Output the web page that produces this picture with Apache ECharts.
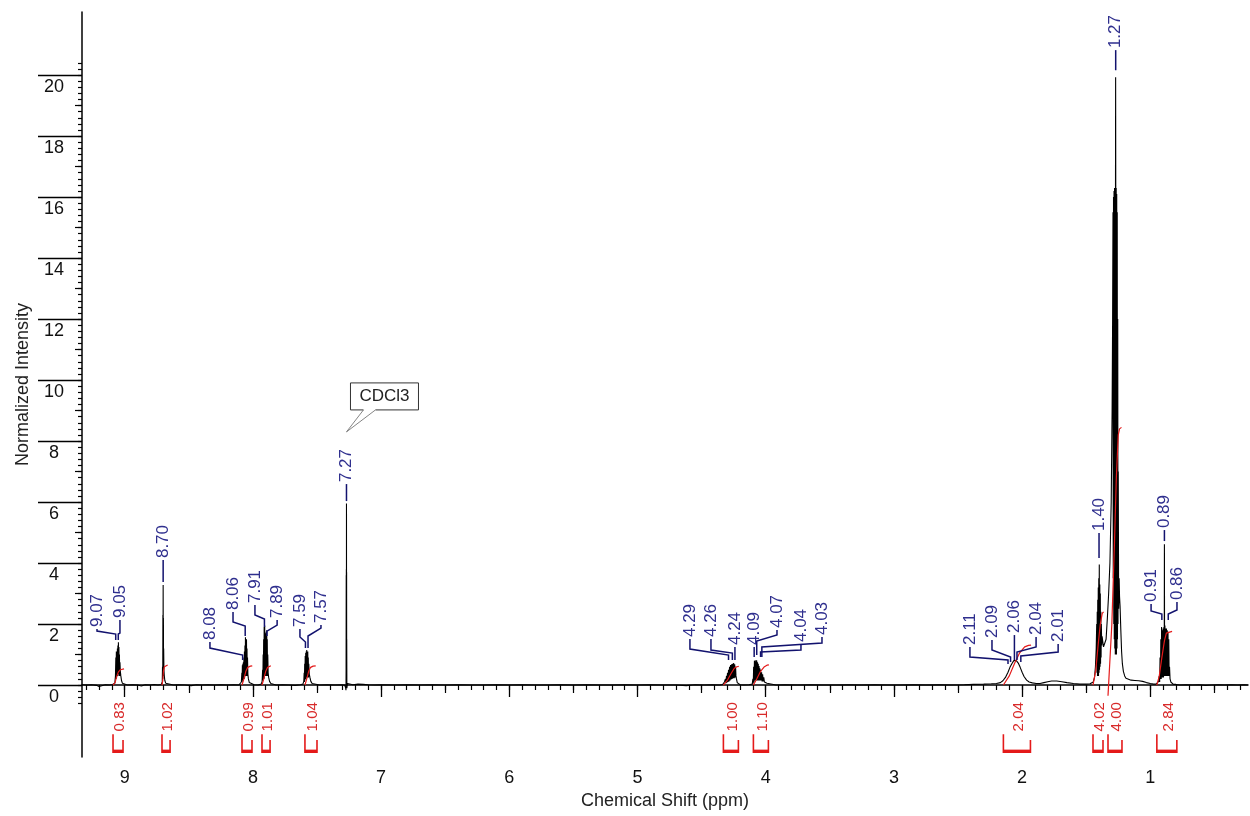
<!DOCTYPE html>
<html><head><meta charset="utf-8">
<script src="https://cdn.jsdelivr.net/npm/echarts@6/dist/echarts.min.js"></script>
<style>html,body{margin:0;padding:0;background:#fff}#c{width:1250px;height:816px}</style>
</head><body><div id="c"></div>
<script>
// ---------------- DATA ----------------
// spectrum segments: [ppm, normalized intensity]
const segStart = [[9.333,0.01],[9.3,0.0],[9.26,0.01],[9.22,-0.01],[9.2,-0.05],[9.185,0.0],[9.15,0.01],[9.12,0.0],[9.095,0.02]];
const seg906 = [[9.085,0.02],[9.077,0.06],[9.072,0.3],[9.069,0.9],[9.067,0.2],[9.065,1.1],[9.063,0.25],[9.061,1.0],[9.059,0.3],[9.057,1.2],[9.055,0.3],[9.053,1.3],[9.051,0.35],[9.049,1.4],[9.047,0.35],[9.045,1.25],[9.043,0.3],[9.041,1.0],[9.039,0.3],[9.037,0.75],[9.034,0.45],[9.03,0.3],[9.025,0.15],[9.018,0.06],[9.008,0.02]];
const seg870 = [[8.98,0.0],[8.94,0.01],[8.9,0.0],[8.87,-0.03],[8.84,0.01],[8.8,0.0],[8.77,0.02],[8.74,0.0],[8.715,0.02],[8.707,0.1],[8.705,0.6],[8.703,0.2],[8.702,2.3],[8.701,0.3],[8.7,3.28],[8.699,0.3],[8.698,2.2],[8.697,0.3],[8.696,1.2],[8.694,0.5],[8.691,0.3],[8.687,0.15],[8.68,0.06],[8.67,0.02]];
const seg807 = [[8.62,0.0],[8.58,0.01],[8.53,0.0],[8.48,-0.02],[8.44,0.01],[8.4,0.0],[8.35,0.01],[8.3,0.0],[8.25,0.01],[8.2,0.0],[8.15,0.01],[8.11,0.0],[8.095,0.03],[8.09,0.1],[8.086,0.4],[8.084,0.1],[8.082,0.65],[8.08,0.15],[8.078,0.7],[8.076,0.15],[8.074,0.75],[8.072,0.2],[8.07,0.9],[8.068,0.2],[8.066,1.1],[8.064,0.25],[8.062,1.3],[8.06,0.3],[8.058,1.57],[8.056,0.3],[8.054,1.4],[8.052,0.3],[8.05,1.5],[8.048,0.3],[8.046,1.2],[8.044,0.3],[8.042,0.9],[8.039,0.35],[8.035,0.2],[8.028,0.08],[8.018,0.02]];
const seg790 = [[7.99,0.01],[7.96,0.0],[7.935,0.03],[7.928,0.12],[7.924,0.5],[7.922,0.15],[7.92,1.0],[7.918,0.2],[7.916,1.5],[7.914,0.2],[7.912,1.9],[7.91,0.25],[7.908,1.95],[7.906,0.3],[7.904,1.7],[7.902,0.3],[7.9,1.6],[7.898,0.3],[7.896,1.75],[7.894,0.3],[7.892,1.8],[7.89,0.3],[7.888,1.5],[7.886,0.3],[7.884,1.0],[7.881,0.4],[7.877,0.25],[7.87,0.12],[7.86,0.05],[7.845,0.02]];
const seg758 = [[7.82,0.0],[7.77,0.01],[7.72,0.0],[7.67,-0.01],[7.63,0.01],[7.61,0.03],[7.603,0.12],[7.6,0.4],[7.598,0.1],[7.596,0.7],[7.594,0.15],[7.592,0.95],[7.59,0.2],[7.588,1.05],[7.586,0.2],[7.584,1.1],[7.582,0.25],[7.58,1.15],[7.578,0.25],[7.576,1.05],[7.574,0.25],[7.572,1.1],[7.57,0.25],[7.568,0.9],[7.566,0.25],[7.564,0.7],[7.56,0.35],[7.555,0.25],[7.548,0.12],[7.538,0.05],[7.525,0.01]];
const seg727 = [[7.48,0.0],[7.42,0.01],[7.36,0.0],[7.31,0.01],[7.285,0.0],[7.277,-0.08],[7.274,-0.17],[7.273,0.5],[7.272,3.6],[7.2715,0.4],[7.271,3.8],[7.2705,0.5],[7.27,5.95],[7.2695,0.5],[7.269,3.7],[7.2685,0.3],[7.268,1.5],[7.267,-0.1],[7.265,-0.15],[7.262,0.05],[7.258,0.03],[7.25,0.02]];
const segMid1 = [[7.22,0.01],[7.18,0.03],[7.14,0.02],[7.1,0.01],[7.05,0.0],[7.0,0.01],[6.9,0.0],[6.8,0.01],[6.7,0.0],[6.6,0.01],[6.5,0.0],[6.4,0.01],[6.3,0.0],[6.2,0.0],[6.1,0.01],[6.0,0.0],[5.9,0.01],[5.8,0.0],[5.7,0.0],[5.6,0.01],[5.5,0.0],[5.4,0.01],[5.3,0.0],[5.2,0.0],[5.1,0.01],[5.0,0.0],[4.9,0.01],[4.8,0.0],[4.7,0.0],[4.62,-0.02],[4.55,0.01],[4.48,0.0],[4.42,0.01],[4.36,0.0],[4.335,0.02]];
const seg426 = [[4.328,0.04],[4.322,0.1],[4.318,0.05],[4.314,0.2],[4.31,0.06],[4.306,0.3],[4.302,0.08],[4.298,0.4],[4.294,0.1],[4.29,0.5],[4.286,0.12],[4.282,0.6],[4.278,0.15],[4.274,0.66],[4.27,0.18],[4.266,0.68],[4.262,0.2],[4.258,0.7],[4.254,0.22],[4.25,0.72],[4.246,0.22],[4.242,0.68],[4.238,0.25],[4.235,0.6],[4.232,0.3],[4.228,0.2],[4.222,0.08],[4.214,0.03],[4.2,0.01]];
const seg406 = [[4.17,0.0],[4.13,0.01],[4.105,0.03],[4.1,0.2],[4.097,0.05],[4.094,0.6],[4.091,0.1],[4.088,0.8],[4.085,0.15],[4.082,0.78],[4.079,0.15],[4.076,0.82],[4.073,0.15],[4.07,0.8],[4.067,0.15],[4.064,0.75],[4.061,0.15],[4.058,0.7],[4.055,0.15],[4.052,0.62],[4.049,0.15],[4.046,0.55],[4.043,0.15],[4.04,0.5],[4.036,0.15],[4.032,0.42],[4.028,0.12],[4.024,0.35],[4.02,0.12],[4.015,0.25],[4.01,0.1],[4.0,0.12],[3.99,0.06],[3.975,0.02]];
const segMid2 = [[3.92,0.0],[3.85,0.01],[3.75,0.0],[3.65,0.01],[3.55,0.0],[3.45,0.0],[3.35,0.01],[3.25,0.0],[3.15,0.01],[3.05,0.0],[2.95,0.0],[2.85,0.01],[2.75,0.0],[2.65,0.01],[2.55,0.0],[2.45,0.01],[2.38,0.02],[2.3,0.03],[2.24,0.04]];
const seg206 = [[2.2,0.05],[2.17,0.08],[2.15,0.14],[2.13,0.25],[2.11,0.42],[2.095,0.58],[2.08,0.7],[2.065,0.8],[2.055,0.83],[2.045,0.8],[2.03,0.72],[2.015,0.58],[2.0,0.42],[1.985,0.28],[1.965,0.16],[1.945,0.1],[1.92,0.07],[1.89,0.05],[1.86,0.05]];
const segBump = [[1.83,0.08],[1.8,0.11],[1.77,0.13],[1.73,0.13],[1.69,0.11],[1.65,0.08],[1.6,0.05],[1.55,0.03],[1.5,0.03],[1.47,0.04]];
const seg140 = [[1.46,0.05],[1.445,0.1],[1.435,0.25],[1.428,0.6],[1.422,1.2],[1.418,2.0],[1.416,0.4],[1.414,2.4],[1.412,0.3],[1.41,2.8],[1.408,0.3],[1.406,3.2],[1.404,0.3],[1.402,3.5],[1.4,0.4],[1.398,3.95],[1.396,0.5],[1.394,3.3],[1.392,0.6],[1.39,3.0],[1.388,0.7],[1.386,2.4],[1.384,0.9],[1.382,2.0],[1.379,1.3],[1.376,1.6],[1.37,1.4],[1.365,1.25],[1.358,1.2],[1.352,1.25]];
const seg127 = [[1.345,1.5],[1.335,2.2],[1.325,3.0],[1.315,4.0],[1.305,6.0],[1.298,9.0],[1.294,12.0],[1.291,15.5],[1.289,3.5],[1.287,16.0],[1.285,2.0],[1.283,16.2],[1.281,1.5],[1.279,16.3],[1.277,1.2],[1.275,16.3],[1.273,1.0],[1.2715,16.4],[1.2705,19.93],[1.2695,16.4],[1.268,1.0],[1.266,16.3],[1.264,1.0],[1.262,16.1],[1.26,1.2],[1.258,15.5],[1.256,1.5],[1.254,12.0],[1.252,2.0],[1.25,7.0],[1.247,2.5],[1.243,3.5],[1.24,2.9],[1.236,2.6],[1.23,1.8],[1.224,1.1],[1.218,0.7],[1.21,0.45],[1.2,0.3],[1.19,0.22]];
const segTail = [[1.175,0.18],[1.15,0.16],[1.12,0.15],[1.09,0.14],[1.06,0.12],[1.03,0.08],[1.0,0.05],[0.975,0.03],[0.955,0.03]];
const seg089 = [[0.945,0.05],[0.935,0.12],[0.93,0.3],[0.927,0.1],[0.924,0.9],[0.921,0.2],[0.918,1.5],[0.915,0.2],[0.912,1.9],[0.909,0.25],[0.906,1.8],[0.903,0.25],[0.9,1.85],[0.897,0.25],[0.894,1.9],[0.8915,0.3],[0.89,4.62],[0.8885,0.3],[0.886,1.95],[0.883,0.3],[0.88,1.85],[0.877,0.3],[0.874,1.85],[0.871,0.3],[0.868,1.8],[0.865,0.3],[0.862,1.75],[0.859,0.3],[0.856,1.5],[0.853,0.3],[0.85,0.6],[0.846,0.2],[0.84,0.1],[0.83,0.04],[0.82,0.02]];
const segEnd = [[0.8,0.02],[0.77,0.0],[0.72,0.01],[0.67,0.0],[0.62,0.01],[0.57,-0.01],[0.52,0.0],[0.47,0.01],[0.42,0.0],[0.37,0.01],[0.32,0.0],[0.27,0.01],[0.238,0.0]];

// peak picking labels (ppm)
const peakValues = [9.07,9.05,8.70,8.08,8.06,7.91,7.89,7.59,7.57,7.27,4.29,4.26,4.24,4.09,4.07,4.04,4.03,2.11,2.09,2.06,2.04,2.01,1.40,1.27,0.91,0.89,0.86];

// integrals
const integralLabels = ['0.83','1.02','0.99','1.01','1.04','1.00','1.10','2.04','4.02','4.00','2.84'];
const integralRanges = [[9.091,9.013],[8.709,8.646],[8.085,8.007],[7.929,7.866],[7.594,7.5],[4.33,4.213],[4.096,3.979],[2.146,1.935],[1.447,1.369],[1.33,1.221],[0.949,0.793]];
const int083 = [[9.091,0],[9.075,0.08],[9.065,0.25],[9.05,0.42],[9.035,0.5],[9.02,0.52],[9.005,0.53]];
const int102 = [[8.709,0],[8.703,0.15],[8.698,0.45],[8.69,0.6],[8.68,0.65],[8.665,0.66]];
const int099 = [[8.085,0],[8.07,0.2],[8.055,0.45],[8.04,0.58],[8.02,0.62],[8.005,0.63]];
const int101 = [[7.929,0],[7.915,0.2],[7.9,0.45],[7.885,0.58],[7.87,0.62],[7.86,0.63]];
const int104 = [[7.594,0],[7.58,0.2],[7.565,0.45],[7.55,0.58],[7.53,0.62],[7.51,0.63]];
const int100 = [[4.33,0],[4.3,0.15],[4.27,0.38],[4.245,0.55],[4.225,0.6],[4.21,0.61]];
const int110 = [[4.096,0],[4.07,0.2],[4.04,0.45],[4.01,0.6],[3.99,0.65],[3.975,0.66]];
const int204 = [[2.146,0],[2.1,0.3],[2.06,0.7],[2.02,1.05],[1.98,1.25],[1.95,1.3],[1.93,1.31]];
const int402 = [[1.447,0],[1.425,0.5],[1.405,1.4],[1.39,2.0],[1.375,2.35],[1.365,2.4]];
const int400 = [[1.33,-0.35],[1.3,2.0],[1.28,4.6],[1.265,6.8],[1.25,8.2],[1.24,8.4],[1.225,8.45]];
const int284 = [[0.949,0],[0.93,0.3],[0.91,0.9],[0.89,1.45],[0.875,1.7],[0.86,1.74],[0.83,1.76]];

// axis tick labels
const xTickLabels = [9,8,7,6,5,4,3,2,1];
const yTickLabels = [0,2,4,6,8,10,12,14,16,18,20];
const solventLabel = 'CDCl3';
const solventPpm = 7.27;

// ---------------- LAYOUT ----------------
// peak label layout: [text ppm (null = at peak), stub start, stub end, join, tip] (intensity units)
const peakLabelLayout = [
 [9.216,1.836,1.77,1.672,1.475],[9.037,2.131,1.705,1.672,1.475],[null,4.098,0,0,3.377],
 [8.335,1.41,1.213,0.984,0.82],[8.155,2.393,2.066,1.934,1.607],[7.984,2.623,2.295,2.164,1.902],[7.811,2.131,1.967,1.77,1.607],
 [7.633,1.836,1.574,1.41,1.213],[7.469,1.967,1.868,1.607,1.213],[null,6.59,0,0,6.033],
 [4.591,1.508,1.18,0.984,0.82],[4.427,1.508,1.148,1.049,0.82],[null,1.246,0,0,0.82],
 [null,1.246,0,0,0.918],[3.912,1.803,1.639,1.443,0.984],[3.725,1.344,1.148,1.082,0.918],[3.561,1.574,1.377,1.246,0.918],
 [2.407,1.246,0.918,0.82,0.689],[2.235,1.475,1.148,0.918,0.754],[null,1.639,0,0,0.82],[1.891,1.574,1.246,1.082,0.82],[1.719,1.344,1.082,0.951,0.754],
 [null,4.984,0,0,4.164],[null,20.82,0,0,20.16],
 [0.994,2.656,2.426,2.328,2.131],[null,5.082,0,0,4.721],[0.792,2.721,2.459,2.328,2.131]
];
const BR_BOTTOM = -2.2, BR_LEFT_TOP = -1.61, BR_RIGHT_TOP = -1.8, INT_TEXT_BOTTOM = -1.52;
const SOLVENT_TIP = 8.3;
const X_MIN = 0.238, X_MAX = 9.333, Y_MIN = -2.36, Y_MAX = 22.07;
const FONT = '"Liberation Sans", Arial, sans-serif';
const LEADER = '#12126e', PEAKTXT = '#2f2f8e', RED = '#e41a1a', REDTXT = '#d82a2a';

const spectrum = [].concat(segStart,seg906,seg870,seg807,seg790,seg758,seg727,segMid1,seg426,seg406,segMid2,seg206,segBump,seg140,seg127,segTail,seg089,segEnd);
const integrals = [int083,int102,int099,int101,int104,int100,int110,int204,int402,int400,int284];

const xMinor = [], xHalf = [], yMinor = [], yOdd = [];
for (let i = 3; i <= 93; i++) xMinor.push(i / 10);
for (let i = 0; i < 9; i++) xHalf.push(i + 0.5);
for (let i = -3; i <= 102; i++) yMinor.push(+(i * 0.2).toFixed(1));
for (let i = 1; i < 20; i += 2) yOdd.push(i);

function xAx(extra) {
  return Object.assign({type:'value', min:X_MIN, max:X_MAX, inverse:true, position:'bottom', gridIndex:0,
    splitLine:{show:false}, axisLine:{show:false}, axisLabel:{show:false}}, extra);
}
function yAx(extra) {
  return Object.assign({type:'value', min:Y_MIN, max:Y_MAX, position:'left', gridIndex:0,
    splitLine:{show:false}, axisLine:{show:false}, axisLabel:{show:false}}, extra);
}

const series = [{
  type:'line', data:spectrum, showSymbol:false, symbol:'none', sampling:null, z:3,
  lineStyle:{color:'#000', width:1.1}, animation:false, clip:true
}];
integrals.forEach(d => series.push({type:'line', data:d, showSymbol:false, symbol:'none', z:4,
  lineStyle:{color:RED, width:1.2}, animation:false}));

series.push({
  type:'custom', z:5, animation:false, clip:false,
  data: peakValues.map((v,i) => [v, peakLabelLayout[i][4]]),
  renderItem: function(params, api) {
    const i = params.dataIndex, v = peakValues[i], L = peakLabelLayout[i];
    const tx = L[0] == null ? v : L[0];
    const pts = [api.coord([tx, L[1]])];
    if (L[0] != null) { pts.push(api.coord([tx, L[2]])); pts.push(api.coord([v, L[3]])); }
    pts.push(api.coord([v, L[4]]));
    const t = pts[0];
    return {type:'group', children:[
      {type:'polyline', shape:{points:pts}, style:{stroke:LEADER, lineWidth:1.5, fill:null}},
      {type:'text', x:t[0], y:t[1]-2, rotation:Math.PI/2,
        style:{text:v.toFixed(2), fill:PEAKTXT, font:'17px ' + FONT, align:'left', verticalAlign:'middle'}}
    ]};
  }
});

series.push({
  type:'custom', z:5, animation:false, clip:false,
  data: integralRanges.map(r => [r[0], r[1]]),
  renderItem: function(params, api) {
    const i = params.dataIndex, r = integralRanges[i];
    const x0 = api.coord([r[0], 0])[0], x1 = api.coord([r[1], 0])[0];
    const yb = api.coord([0, BR_BOTTOM])[1], yl = api.coord([0, BR_LEFT_TOP])[1], yr = api.coord([0, BR_RIGHT_TOP])[1];
    const yt = api.coord([0, INT_TEXT_BOTTOM])[1];
    return {type:'group', children:[
      {type:'polyline', shape:{points:[[x0,yl],[x0,yb],[x1,yb],[x1,yr]]}, style:{stroke:RED, lineWidth:1.6, fill:null}},
      {type:'rect', shape:{x:x0, y:yb-2.5, width:x1-x0, height:2.5}, style:{fill:RED}},
      {type:'text', x:(x0+x1)/2+2, y:yt, rotation:Math.PI/2,
        style:{text:integralLabels[i], fill:REDTXT, font:'15px ' + FONT, align:'left', verticalAlign:'middle'}}
    ]};
  }
});

series.push({
  type:'custom', z:6, animation:false, clip:false,
  data: [[solventPpm, SOLVENT_TIP]],
  renderItem: function(params, api) {
    const p = api.coord([solventPpm, SOLVENT_TIP]);
    const L = p[0]+4, R = p[0]+72, T = p[1]-49, B = p[1]-22;
    return {type:'group', children:[
      {type:'polyline', shape:{points:[[p[0]+17,B],[L,B],[L,T],[R,T],[R,B],[p[0]+29,B]]}, style:{stroke:'#333', lineWidth:1, fill:null}},
      {type:'polyline', shape:{points:[[p[0]+17,B],[p[0],p[1]],[p[0]+29,B]]}, style:{stroke:'#666', lineWidth:0.8, fill:null}},
      {type:'text', x:(L+R)/2, y:(T+B)/2, style:{text:solventLabel, fill:'#222', font:'17px ' + FONT, align:'center', verticalAlign:'middle'}}
    ]};
  }
});

const option = {
  backgroundColor:'#fff',
  animation:false,
  grid:{left:82, right:2, top:12, bottom:59, containLabel:false},
  xAxis:[
    xAx({axisLine:{show:true, lineStyle:{color:'#000', width:1.5}},
      axisTick:{show:true, customValues:xTickLabels, length:12, lineStyle:{color:'#000', width:1.3}},
      axisLabel:{show:true, customValues:xTickLabels, margin:12, fontSize:18, fontFamily:FONT, color:'#111'},
      name:'Chemical Shift (ppm)', nameLocation:'middle', nameGap:35,
      nameTextStyle:{fontSize:18, fontFamily:FONT, color:'#222'}}),
    xAx({axisTick:{show:true, customValues:xMinor, length:5, lineStyle:{color:'#000', width:1.2}}}),
    xAx({axisTick:{show:true, customValues:xHalf, length:8, lineStyle:{color:'#000', width:1.2}}})
  ],
  yAxis:[
    yAx({axisLine:{show:true, lineStyle:{color:'#000', width:1.5}},
      axisTick:{show:true, customValues:yTickLabels, length:44, lineStyle:{color:'#000', width:1.3}},
      axisLabel:{show:true, customValues:yTickLabels, margin:28, align:'center', verticalAlign:'top', padding:[3,0,0,0],
        fontSize:18, fontFamily:FONT, color:'#111'},
      name:'Normalized Intensity', nameLocation:'middle', nameGap:50,
      nameTextStyle:{fontSize:18, fontFamily:FONT, color:'#222'}}),
    yAx({axisTick:{show:true, customValues:yMinor, length:4, lineStyle:{color:'#000', width:1.2}}}),
    yAx({axisTick:{show:true, customValues:yOdd, length:7, lineStyle:{color:'#000', width:1.2}}})
  ],
  series: series
};

const chart = echarts.init(document.getElementById('c'), null, {renderer:'canvas'});
chart.setOption(option);
</script>
</body></html>
